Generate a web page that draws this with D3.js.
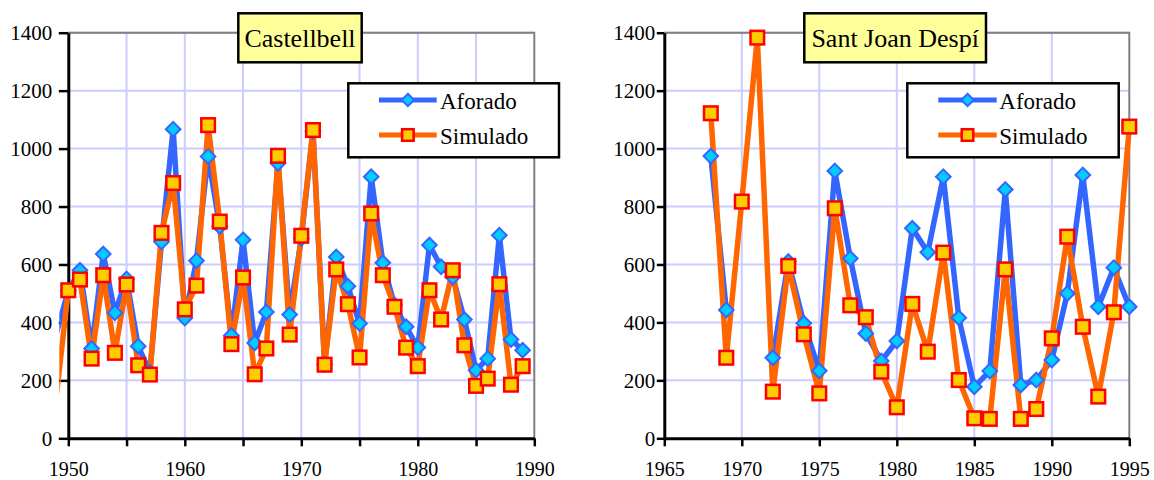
<!DOCTYPE html>
<html><head><meta charset="utf-8">
<script src="https://cdn.jsdelivr.net/npm/d3@7"></script>
<style>
html,body{margin:0;padding:0;background:#fff;}
svg{display:block;}
</style>
</head><body>
<svg id="chart" width="1154" height="480"></svg>
<script>
// ---------- DATA ----------
const seriesNames = ["Aforado", "Simulado"];
const yTicks = [0, 200, 400, 600, 800, 1000, 1200, 1400];

const castTitle = "Castellbell";
const castYears = [1949,1950,1951,1952,1953,1954,1955,1956,1957,1958,1959,1960,1961,1962,1963,1964,1965,1966,1967,1968,1969,1970,1971,1972,1973,1974,1975,1976,1977,1978,1979,1980,1981,1982,1983,1984,1985,1986,1987,1988,1989];
const castAforado = [365,510,580,310,636,433,550,318,228,678,1067,415,613,973,731,355,685,329,436,949,427,690,1060,255,626,525,396,903,606,460,385,313,667,592,557,410,235,275,701,341,304];
const castSimulado = [155,511,548,275,563,295,531,252,220,709,881,445,527,1081,748,325,555,221,310,975,358,699,1064,254,583,463,279,776,563,454,313,249,511,410,580,321,181,206,532,185,249];
const castXTicks = [1950,1955,1960,1965,1970,1975,1980,1985,1990];
const castXLabels = [1950,1960,1970,1980,1990];

const santTitle = "Sant Joan Despí";
const santYears = [1968,1969,1970,1971,1972,1973,1974,1975,1976,1977,1978,1979,1980,1981,1982,1983,1984,1985,1986,1987,1988,1989,1990,1991,1992,1993,1994,1995];
const santAforado = [974,443,null,null,278,610,397,233,923,621,362,267,336,725,642,903,416,178,232,859,184,201,270,500,909,454,589,454];
const santSimulado = [1122,278,817,1383,161,595,359,155,794,459,418,230,107,464,299,641,201,69,67,583,67,101,345,696,385,144,435,1076];
const santXTicks = [1965,1970,1975,1980,1985,1990,1995];
const santXLabels = [1965,1970,1975,1980,1985,1990,1995];

// ---------- STYLE ----------
const COL_BLUE = "#3366FF", COL_CYAN = "#00CCFF";
const COL_ORANGE = "#FF6600", COL_RED = "#FF0000", COL_GOLD = "#FFCC00";
const GRID = "#CCCCFF";
const SERIF = "Liberation Serif";

const svg = d3.select("#chart");

function diamondPath(r) { return `M0,${-r}L${r},0L0,${r}L${-r},0Z`; }

function drawMarker(g, kind, cx, cy, scale) {
  const s = scale || 1;
  if (kind === 0) {
    g.append("path").attr("d", diamondPath(7.3 * s))
      .attr("transform", `translate(${cx},${cy})`)
      .attr("fill", COL_CYAN).attr("stroke", COL_BLUE).attr("stroke-width", 2);
  } else {
    const h = 6.8 * s;
    g.append("rect").attr("x", cx - h).attr("y", cy - h)
      .attr("width", 2 * h).attr("height", 2 * h)
      .attr("fill", COL_GOLD).attr("stroke", COL_RED).attr("stroke-width", 2.5);
  }
}

function drawChart(cfg, idx) {
  const x = d3.scaleLinear().domain(cfg.xDomain).range([cfg.left, cfg.right]);
  const y = d3.scaleLinear().domain([0, 1400]).range([438.3, 32.7]);
  const top = y(1400), bottom = y(0);
  const g = svg.append("g");

  // grid
  g.append("g").selectAll("line").data(yTicks.filter(t => t > 0)).join("line")
    .attr("x1", cfg.left).attr("x2", cfg.right)
    .attr("y1", d => y(d)).attr("y2", d => y(d))
    .attr("stroke", GRID).attr("stroke-width", 2);
  g.append("g").selectAll("line").data(cfg.xTicks.slice(1, -1)).join("line")
    .attr("x1", d => x(d)).attr("x2", d => x(d))
    .attr("y1", top).attr("y2", bottom)
    .attr("stroke", GRID).attr("stroke-width", 2);

  // plot border (top + right)
  g.append("path")
    .attr("d", `M${cfg.left},${top}H${cfg.right}V${bottom}`)
    .attr("fill", "none").attr("stroke", "#808080").attr("stroke-width", 2);

  // axes
  const ya = g.append("g").attr("transform", `translate(${cfg.left},0)`)
    .call(d3.axisLeft(y).tickValues(yTicks).tickSize(cfg.yTick).tickSizeOuter(0)
      .tickPadding(cfg.yPad).tickFormat(d3.format("d")));
  const xa = g.append("g").attr("transform", `translate(0,${bottom})`)
    .call(d3.axisBottom(x).tickValues(cfg.xTicks).tickSize(8).tickSizeOuter(0)
      .tickFormat(d => cfg.xLabels.includes(d) ? String(d) : ""));
  [ya, xa].forEach(a => {
    a.attr("font-family", null).attr("font-size", null);
    a.select(".domain").attr("stroke", "#000").attr("stroke-width", 3);
    a.selectAll(".tick line").attr("stroke", "#000").attr("stroke-width", 2.5);
    a.selectAll(".tick text").attr("fill", "#000")
      .style("font-family", SERIF).style("font-size", "21px");
  });
  xa.selectAll(".tick text").attr("y", 37.3).attr("dy", "0").style("font-size", "20px");

  // clip
  const clipId = "clip" + idx;
  svg.append("defs").append("clipPath").attr("id", clipId)
    .append("rect").attr("x", cfg.clipLeft).attr("y", 0)
    .attr("width", 1154).attr("height", 480);

  const series = [
    { vals: cfg.aforado, color: COL_BLUE },
    { vals: cfg.simulado, color: COL_ORANGE }
  ];
  const line = d3.line().defined(d => d[1] != null)
    .x(d => x(d[0])).y(d => y(d[1]));
  const lg = g.append("g").attr("clip-path", `url(#${clipId})`);
  series.forEach(s => {
    const pts = cfg.years.map((yr, i) => [yr, s.vals[i]]);
    lg.append("path").datum(pts).attr("d", line)
      .attr("fill", "none").attr("stroke", s.color).attr("stroke-width", 5.5)
      .attr("stroke-linejoin", "round").attr("stroke-linecap", "butt");
  });
  const mg = g.append("g");
  series.forEach((s, k) => {
    cfg.years.forEach((yr, i) => {
      const v = s.vals[i];
      if (v == null || yr < cfg.xDomain[0] || yr > cfg.xDomain[1]) return;
      drawMarker(mg, k, x(yr), y(v));
    });
  });

  // title box
  const tg = g.append("g");
  tg.append("rect").attr("x", cfg.title.x0).attr("y", 13.3)
    .attr("width", cfg.title.x1 - cfg.title.x0).attr("height", 49)
    .attr("fill", "#FFFF99").attr("stroke", "#000").attr("stroke-width", 2.5);
  tg.append("text").attr("x", (cfg.title.x0 + cfg.title.x1) / 2).attr("y", 47)
    .attr("text-anchor", "middle")
    .style("font-family", SERIF).style("font-size", "26px")
    .attr("fill", "#000").text(cfg.titleText);

  // legend
  const L = cfg.legend;
  const leg = g.append("g");
  leg.append("rect").attr("x", L.x0).attr("y", 83.3)
    .attr("width", L.x1 - L.x0).attr("height", 74)
    .attr("fill", "#fff").attr("stroke", "#000").attr("stroke-width", 2.5);
  seriesNames.forEach((name, k) => {
    const ry = 100 + k * 35;
    leg.append("line").attr("x1", L.l0).attr("x2", L.l1).attr("y1", ry).attr("y2", ry)
      .attr("stroke", series[k].color).attr("stroke-width", 5);
    drawMarker(leg, k, (L.l0 + L.l1) / 2, ry, 0.85);
    leg.append("text").attr("x", L.tx).attr("y", ry + 9)
      .style("font-family", SERIF).style("font-size", "23px")
      .attr("fill", "#000").text(name);
  });
}

drawChart({
  xDomain: [1950, 1990], left: 68.3, right: 534.3, yPad: 6.5, yTick: 9.5,
  xTicks: castXTicks, xLabels: castXLabels,
  years: castYears, aforado: castAforado, simulado: castSimulado,
  clipLeft: 59.3,
  titleText: castTitle, title: { x0: 238.3, x1: 361.7 },
  legend: { x0: 348.3, x1: 559, l0: 379, l1: 436.7, tx: 440 }
}, 0);

drawChart({
  xDomain: [1965, 1995], left: 664.3, right: 1129.3, yPad: 1.5, yTick: 7.5,
  xTicks: santXTicks, xLabels: santXLabels,
  years: santYears, aforado: santAforado, simulado: santSimulado,
  clipLeft: 600,
  titleText: santTitle, title: { x0: 804.3, x1: 986 },
  legend: { x0: 907.3, x1: 1118.7, l0: 938.3, l1: 996.7, tx: 999.3 }
}, 1);
</script>
</body></html>
